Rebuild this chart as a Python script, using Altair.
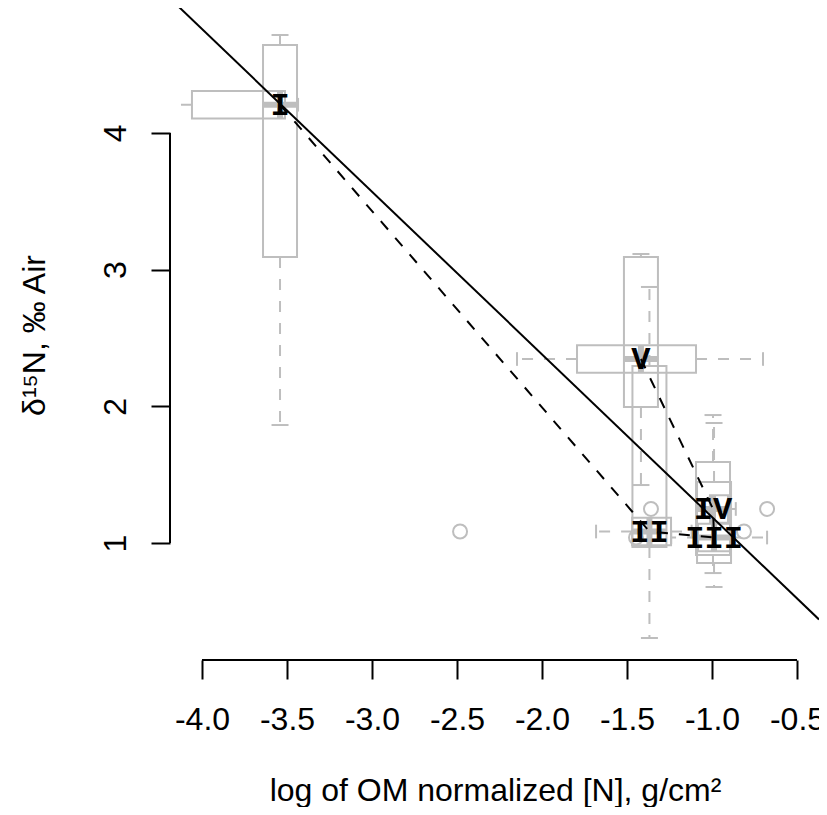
import altair as alt
import pandas as pd

# ---------------- data ----------------
groups = ["I", "II", "III", "IV", "V"]
med_x = [-3.541, -1.368, -0.988, -0.994, -1.418]
med_y = [4.206, 1.084, 1.040, 1.249, 2.346]
x_q1 = [-4.059, -1.470, -1.082, -1.012, -1.794]
x_q3 = [-3.512, -1.241, -0.894, -0.906, -1.094]
x_lo = [-4.300, -1.682, -1.240, -1.060, -2.147]
x_hi = [-3.435, -1.120, -0.676, -0.860, -0.700]
y_q1 = [3.092, 0.971, 0.854, 0.912, 1.995]
y_q3 = [4.643, 2.295, 1.446, 1.593, 3.092]
y_lo = [1.863, 0.305, 0.678, 0.780, 1.424]
y_hi = [4.716, 2.873, 1.878, 1.936, 3.114]
out_group = ["II", "II", "III", "IV", "IV"]
out_x = [-2.482, -0.812, -1.447, -1.359, -0.676]
fit_intercept = 0.0
fit_slope = -1.19
x_ticks = [-4.0, -3.5, -3.0, -2.5, -2.0, -1.5, -1.0, -0.5]
y_ticks = [1, 2, 3, 4]
x_title = "log of OM normalized [N], g/cm²"
y_title = "δ¹⁵N, ‰ Air"

# ---------------- layout constants ----------------
BOX = 0.1     # half width of the boxes
CAP = 0.05    # half length of the whisker caps
XDOM = [-4.1882, -0.3706]
YDOM = [0.1441, 4.9137]
GRAY = "#BEBEBE"
W, H = 649, 652
FONT = "Liberation Sans"

xs = alt.Scale(domain=XDOM, nice=False, zero=False)
ys = alt.Scale(domain=YDOM, nice=False, zero=False)

x_axis = alt.Axis(values=x_ticks, domain=False, grid=False, tickSize=19, tickWidth=2,
                  tickColor="black", labelFont=FONT, labelFontSize=32, labelColor="black",
                  labelPadding=50, labelBaseline="alphabetic", labelAlign="center",
                  labelFlush=False, labelOverlap=False,
                  labelExpr="replace(format(datum.value, '.1f'), '\u2212', '-')",
                  titleFont=FONT, titleFontSize=32, titleFontWeight="normal",
                  titleColor="black", titleX=325, titleY=140, titleAlign="center",
                  titleBaseline="alphabetic", titleAngle=0)
y_axis = alt.Axis(values=y_ticks, domain=False, grid=False, tickSize=19, tickWidth=2,
                  tickColor="black", labelFont=FONT, labelFontSize=32, labelColor="black",
                  labelPadding=26, labelAngle=270, labelAlign="center",
                  labelBaseline="alphabetic", labelFlush=False, labelOverlap=False,
                  titleFont=FONT, titleFontSize=32, titleFontWeight="normal",
                  titleColor="black", titleX=-126, titleY=327, titleAlign="center",
                  titleBaseline="alphabetic", titleAngle=270)


def X(f="x"):
    return alt.X(f"{f}:Q", scale=xs, axis=x_axis, title=x_title)


def Y(f="y"):
    return alt.Y(f"{f}:Q", scale=ys, axis=y_axis, title=y_title)


# ---------------- tables ----------------
vbox = pd.DataFrame({"x": [m - BOX for m in med_x], "x2": [m + BOX for m in med_x],
                     "y": y_q1, "y2": y_q3})
hbox = pd.DataFrame({"x": x_q1, "x2": x_q3,
                     "y": [m - BOX for m in med_y], "y2": [m + BOX for m in med_y]})

whisk, caps, meds = [], [], []
for i in range(len(groups)):
    mx, my = med_x[i], med_y[i]
    whisk += [dict(x=mx, x2=mx, y=y_q3[i], y2=y_hi[i]),
              dict(x=mx, x2=mx, y=y_q1[i], y2=y_lo[i]),
              dict(x=x_q3[i], x2=x_hi[i], y=my, y2=my),
              dict(x=x_q1[i], x2=x_lo[i], y=my, y2=my)]
    caps += [dict(x=mx - CAP, x2=mx + CAP, y=y_hi[i], y2=y_hi[i]),
             dict(x=mx - CAP, x2=mx + CAP, y=y_lo[i], y2=y_lo[i]),
             dict(x=x_hi[i], x2=x_hi[i], y=my - CAP, y2=my + CAP),
             dict(x=x_lo[i], x2=x_lo[i], y=my - CAP, y2=my + CAP)]
    meds += [dict(x=mx - BOX, x2=mx + BOX, y=my, y2=my),
             dict(x=mx, x2=mx, y=my - BOX, y2=my + BOX)]
whisk = pd.DataFrame(whisk)
caps = pd.DataFrame(caps)
meds = pd.DataFrame(meds)

outl = pd.DataFrame({"x": out_x, "y": [med_y[groups.index(g)] for g in out_group]})

fit = pd.DataFrame({"x": XDOM, "y": [fit_intercept + fit_slope * v for v in XDOM]})
path = pd.DataFrame({"x": med_x, "y": med_y, "o": list(range(len(groups))), "label": groups})

xaxis_line = pd.DataFrame({"x": [min(x_ticks)], "x2": [max(x_ticks)], "y": [YDOM[0]]})
yaxis_line = pd.DataFrame({"y": [min(y_ticks)], "y2": [max(y_ticks)], "x": [XDOM[0]]})

axl_x = alt.Chart(xaxis_line).mark_rule(color="black", strokeWidth=2).encode(
    x=X(), x2="x2", y=Y())
axl_y = alt.Chart(yaxis_line).mark_rule(color="black", strokeWidth=2).encode(
    x=X(), y=Y(), y2="y2")

vbox_l = alt.Chart(vbox).mark_rect(fillOpacity=0, stroke=GRAY, strokeWidth=2, clip=True).encode(
    x=X(), x2="x2", y=Y(), y2="y2")
hbox_l = alt.Chart(hbox).mark_rect(fillOpacity=0, stroke=GRAY, strokeWidth=2, clip=True).encode(
    x=X(), x2="x2", y=Y(), y2="y2")
whisk_l = alt.Chart(whisk).mark_rule(color=GRAY, strokeWidth=2, strokeDash=[11, 11], clip=True).encode(
    x=X(), x2="x2", y=Y(), y2="y2")
caps_l = alt.Chart(caps).mark_rule(color=GRAY, strokeWidth=2, clip=True).encode(
    x=X(), x2="x2", y=Y(), y2="y2")
meds_l = alt.Chart(meds).mark_rule(color=GRAY, strokeWidth=6, clip=True).encode(
    x=X(), x2="x2", y=Y(), y2="y2")
out_l = alt.Chart(outl).mark_point(shape="circle", filled=False, color=GRAY, size=196,
                                   strokeWidth=2, opacity=1).encode(x=X(), y=Y())
fit_l = alt.Chart(fit).mark_line(color="black", strokeWidth=2, clip=True).encode(x=X(), y=Y())
path_l = alt.Chart(path).mark_line(color="black", strokeWidth=2, strokeDash=[11, 11]).encode(
    x=X(), y=Y(), order="o:Q")
lab_l = alt.Chart(path).mark_text(font="Liberation Mono", fontWeight="bold", fontSize=32,
                                  color="black", align="center", baseline="middle").encode(
    x=X(), y=Y(), text="label:N")

chart = alt.layer(axl_x, axl_y, vbox_l, hbox_l, whisk_l, caps_l, meds_l, out_l,
                  path_l, fit_l, lab_l).properties(
    width=W, height=H,
    autosize=alt.AutoSizeParams(type="none"),
    padding={"left": 162, "top": 0, "right": 0, "bottom": 147},
).configure_view(stroke=None)

chart.save("out.html", embed_options={"renderer": "svg", "actions": False})
